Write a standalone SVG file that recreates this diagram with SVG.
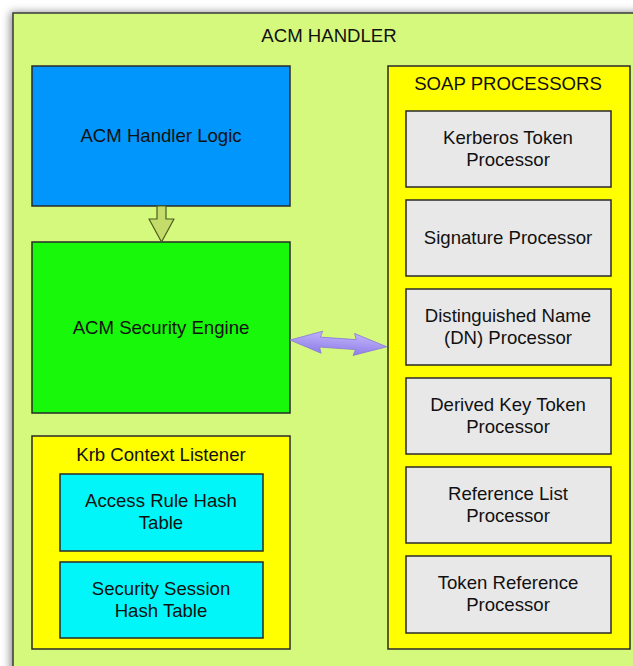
<svg xmlns="http://www.w3.org/2000/svg" width="633" height="666" viewBox="0 0 633 666">
  <style>
    text { font-family: "Liberation Sans", Arial, Helvetica, sans-serif; font-size: 18.6px; fill: #111; text-anchor: middle; }
    .box { stroke: #2a2a2a; stroke-width: 1.5; }
    .outer { fill: #d5f97c; stroke: #3a3a3a; stroke-width: 1.5; }
    .yellow { fill: #ffff00; }
    .proc { fill: #e8e8e8; }
    .cyan { fill: #00f6f8; }
  </style>
  <defs>
    <filter id="shadow" x="-10%" y="-10%" width="120%" height="120%">
      <feDropShadow dx="-2" dy="0" stdDeviation="4" flood-color="#000" flood-opacity="0.45"/>
    </filter>
    <linearGradient id="purple" x1="0" y1="0" x2="0" y2="1">
      <stop offset="0" stop-color="#c0b4fa"/>
      <stop offset="1" stop-color="#8f7de8"/>
    </linearGradient>
  </defs>

  <rect width="633" height="666" fill="#ffffff"/>

  <!-- container -->
  <g id="acm-handler">
    <rect class="outer" x="13" y="13" width="640" height="670" filter="url(#shadow)"/>
    <text x="329" y="42">ACM HANDLER</text>
  </g>

  <g id="acm-handler-logic">
    <rect class="box" x="32" y="66" width="258" height="140" fill="#0096fb"/>
    <text x="161" y="142">ACM Handler Logic</text>
  </g>

  <g id="acm-security-engine">
    <rect class="box" x="32" y="242" width="258" height="171" fill="#17f80a"/>
    <text x="161" y="334">ACM Security Engine</text>
  </g>

  <g id="krb-context-listener">
    <rect class="box yellow" x="32" y="436" width="258" height="213"/>
    <text x="161" y="461">Krb Context Listener</text>
  </g>

  <g id="access-rule-hash-table">
    <rect class="box cyan" x="60" y="474" width="203" height="77"/>
    <text x="161" y="507">Access Rule Hash</text>
    <text x="161" y="529">Table</text>
  </g>

  <g id="security-session-hash-table">
    <rect class="box cyan" x="60" y="562" width="203" height="76"/>
    <text x="161" y="595">Security Session</text>
    <text x="161" y="617">Hash Table</text>
  </g>

  <g id="soap-processors">
    <rect class="box yellow" x="388" y="66" width="242" height="583"/>
    <text x="508" y="90">SOAP PROCESSORS</text>
  </g>

  <g id="kerberos-token-processor">
    <rect class="box proc" x="406" y="111" width="205" height="76"/>
    <text x="508" y="144">Kerberos Token</text>
    <text x="508" y="166">Processor</text>
  </g>

  <g id="signature-processor">
    <rect class="box proc" x="406" y="200" width="205" height="76"/>
    <text x="508" y="244">Signature Processor</text>
  </g>

  <g id="dn-processor">
    <rect class="box proc" x="406" y="289" width="205" height="76"/>
    <text x="508" y="322">Distinguished Name</text>
    <text x="508" y="344">(DN) Processor</text>
  </g>

  <g id="derived-key-token-processor">
    <rect class="box proc" x="406" y="378" width="205" height="76"/>
    <text x="508" y="411">Derived Key Token</text>
    <text x="508" y="433">Processor</text>
  </g>

  <g id="reference-list-processor">
    <rect class="box proc" x="406" y="467" width="205" height="76"/>
    <text x="508" y="500">Reference List</text>
    <text x="508" y="522">Processor</text>
  </g>

  <g id="token-reference-processor">
    <rect class="box proc" x="406" y="556" width="205" height="77"/>
    <text x="508" y="589">Token Reference</text>
    <text x="508" y="611">Processor</text>
  </g>

  <!-- connectors -->
  <g id="connectors">
    <!-- block arrow: handler logic down to security engine -->
    <polygon points="157,206 166,206 166,219 174,219 161.5,242 149,219 157,219"
             fill="#c3dc6a" stroke="#4a5a20" stroke-width="1.2" stroke-linejoin="round"/>
    <!-- double block arrow: security engine to SOAP processors -->
    <g transform="translate(290,340) rotate(4)">
      <polygon points="0,0 32,-11 30,-5 66,-5 64,-11 97,0 64,11 66,5 30,5 32,11"
               fill="url(#purple)" stroke="#8a7ad8" stroke-width="0.8" stroke-linejoin="round"/>
    </g>
  </g>
</svg>
